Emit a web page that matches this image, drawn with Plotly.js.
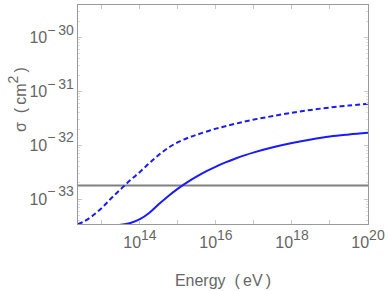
<!DOCTYPE html>
<html><head><meta charset="utf-8">
<script src="https://cdn.plot.ly/plotly-3.0.1.min.js"></script>
<style>html,body{margin:0;padding:0;background:#fff}</style>
</head><body><div id="chart" style="width:388px;height:291px"></div>
<script>
// Dashed curve
const energyDashed = [2.34e12, 3.16e12, 5.62e12, 1e13, 1.78e13, 3.16e13, 5.62e13, 1e14, 1.78e14, 3.16e14, 5.62e14, 1e15, 1.78e15, 3.16e15, 1e16, 3.16e16, 1e17, 3.16e17, 1e18, 3.16e18, 1e19, 3.16e19, 1e20];
const sigmaDashed  = [3.44e-34, 3.77e-34, 4.90e-34, 6.92e-34, 1.05e-33, 1.55e-33, 2.26e-33, 3.20e-33, 4.68e-33, 6.68e-33, 9.02e-33, 1.14e-32, 1.36e-32, 1.57e-32, 2.03e-32, 2.49e-32, 2.99e-32, 3.48e-32, 4.00e-32, 4.52e-32, 5.01e-32, 5.46e-32, 5.85e-32];
// Solid curve
const energySolid = [1.58e13, 3.16e13, 5.62e13, 1e14, 1.78e14, 3.16e14, 5.62e14, 1e15, 1.78e15, 3.16e15, 5.62e15, 1e16, 1.78e16, 3.16e16, 5.62e16, 1e17, 3.16e17, 1e18, 3.16e18, 1e19, 3.16e19, 1e20];
const sigmaSolid  = [3.24e-34, 3.35e-34, 3.63e-34, 4.27e-34, 5.62e-34, 8.13e-34, 1.15e-33, 1.57e-33, 2.07e-33, 2.64e-33, 3.30e-33, 4.02e-33, 4.80e-33, 5.62e-33, 6.49e-33, 7.38e-33, 9.18e-33, 1.10e-32, 1.28e-32, 1.45e-32, 1.58e-32, 1.70e-32];
// Horizontal reference level
const energyRef = [2.34e12, 1e20];
const sigmaRefLevel = 1.80e-33;
// Tick labels
const xTickVals = [1e13, 1e14, 1e15, 1e16, 1e17, 1e18, 1e19, 1e20];
const xTickExp  = ['', '14', '', '16', '', '18', '', '20'];
const yTickVals = [1e-33, 1e-32, 1e-31, 1e-30];
const yTickExp  = ['\u2212\u200933', '\u2212\u200932', '\u2212\u200931', '\u2212\u200930'];

const sup = e => e ? '10<span style="font-size:20px"><sup>' + e + '</sup></span>' : '';
const txt = '#666666';
const fontFam = 'Liberation Sans, Arial, sans-serif';

const traces = [
  {x: energyRef, y: energyRef.map(() => sigmaRefLevel), mode: 'lines', line: {color: '#808080', width: 2}, hoverinfo: 'skip'},
  {x: energyDashed, y: sigmaDashed, mode: 'lines', line: {color: '#1a1aff', width: 2, dash: '5px,3px', shape: 'spline', smoothing: 1}},
  {x: energySolid, y: sigmaSolid, mode: 'lines', line: {color: '#1a1aff', width: 2, shape: 'spline', smoothing: 1}}
];

const layout = {
  width: 388, height: 291,
  margin: {l: 78, r: 20, t: 5, b: 67},
  showlegend: false,
  paper_bgcolor: '#fff', plot_bgcolor: '#fff',
  font: {family: fontFam, color: txt, size: 16},
  xaxis: {
    type: 'log', range: [12.37, 20],
    tickvals: xTickVals, ticktext: xTickExp.map(sup),
    ticks: 'inside', ticklen: 4, tickcolor: '#c8c8c8',
    ticklabelstandoff: 4,
    showgrid: false, zeroline: false,
    showline: true, linecolor: '#999999', linewidth: 1, mirror: 'ticks',
    tickfont: {size: 16, color: txt},
    title: {text: 'Energy \u00a0(\u2009eV\u2009)', font: {size: 16, color: txt}, standoff: 24}
  },
  yaxis: {
    type: 'log', range: [-33.46, -29.4],
    tickvals: yTickVals, ticktext: yTickExp.map(sup),
    ticks: 'inside', ticklen: 4, tickcolor: '#c8c8c8',
    minor: {dtick: 'D1', ticks: 'inside', ticklen: 2, tickcolor: '#dddddd'},
    showgrid: false, zeroline: false,
    showline: true, linecolor: '#999999', linewidth: 1, mirror: 'ticks',
    tickfont: {size: 16, color: txt}
  },
  annotations: [{
    text: '\u03c3 \u00a0(\u2009cm<span style="font-size:20px"><sup>2</sup></span>\u2009)', textangle: -90,
    xref: 'paper', yref: 'paper', x: 0, y: 0.566, xshift: -61,
    xanchor: 'center', yanchor: 'middle', showarrow: false,
    font: {size: 16, color: txt}
  }]
};

Plotly.newPlot('chart', traces, layout, {staticPlot: true, displayModeBar: false});
</script>
</body></html>
